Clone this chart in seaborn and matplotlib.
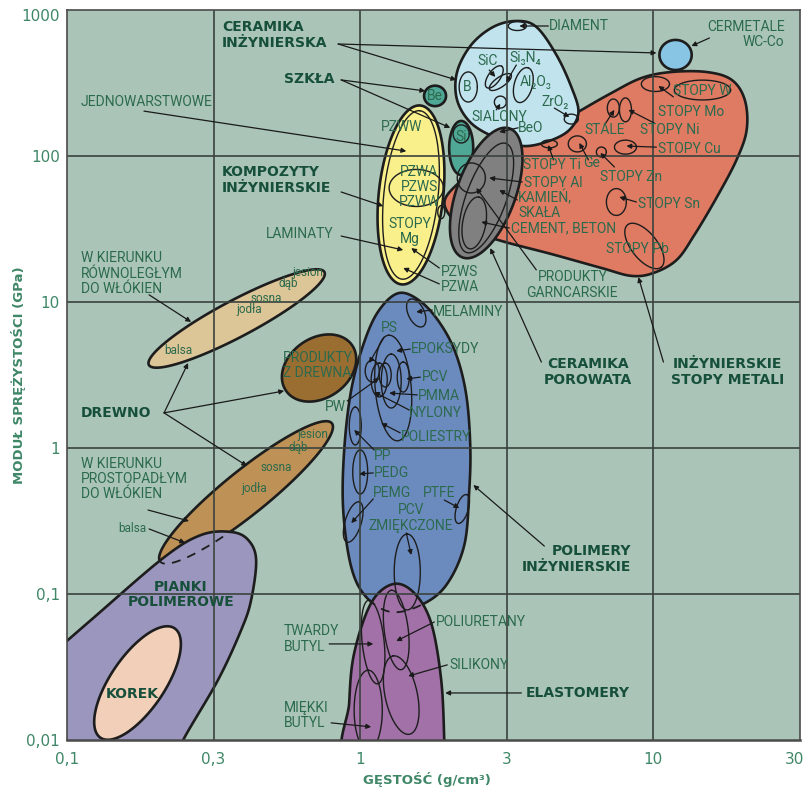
import numpy as np
import matplotlib
matplotlib.use("Agg")
import matplotlib.pyplot as plt
from matplotlib.patches import Polygon
from matplotlib.ticker import NullLocator
from matplotlib.transforms import ScaledTranslation
import seaborn as sns

sns.set_style("white")
plt.rcParams["font.family"] = ["DejaVu Sans"]

# ---------------------------------------------------------------------------
# Material envelopes: density rho [g/cm3], Young's modulus E [GPa]
# ---------------------------------------------------------------------------
# free-form envelopes (outline points, smoothed by a closed spline)
cer_rho = [3.41, 3.99, 4.67, 5.25, 5.55, 5.17, 4.42, 3.60, 2.91, 2.39, 2.14, 2.14, 2.39, 2.84]
cer_E = [841, 765, 492, 297, 200, 151, 127, 117, 133, 168, 242, 376, 576, 765]

metal_rho = [1.94, 2.13, 2.80, 3.83, 5.46, 7.19, 9.10, 11.5, 15.2, 18.5, 20.5, 20.8,
             19.2, 16.4, 13.8, 12.0, 10.0, 8.41, 6.65, 4.49, 3.03, 2.25]
metal_E = [46.2, 63.3, 93.9, 129, 197, 270, 342, 376, 376, 332, 242, 151,
           93.9, 51.6, 28.8, 19.4, 15.8, 15.1, 17.1, 21.3, 26.2, 32.1]

foam_rho = [0.0435, 0.0697, 0.1208, 0.213, 0.2866, 0.363, 0.415, 0.4416, 0.4246,
            0.3926, 0.3275, 0.249, 0.2265, 0.1306, 0.0435]
foam_E = [0.01117, 0.0254, 0.0664, 0.1765, 0.2536, 0.266, 0.2344, 0.171, 0.091,
          0.0566, 0.0258, 0.01, 0.00624, 0.00388, 0.00388]

poly_rho = [1.359, 1.615, 1.889, 2.127, 2.30, 2.373, 2.355, 2.265, 1.967, 1.615,
            1.276, 1.048, 0.932, 0.875, 0.882, 0.932, 1.032, 1.161]
poly_E = [11.53, 10.0, 6.96, 4.34, 2.307, 1.048, 0.515, 0.2166, 0.1153, 0.0841,
          0.0753, 0.0954, 0.153, 0.376, 0.969, 2.495, 5.32, 8.81]

elast_rho = [0.910, 0.917, 0.954, 1.090, 1.296, 1.528, 1.746, 1.889, 1.935, 1.935]
elast_E = [0.0073, 0.0179, 0.0394, 0.0868, 0.117, 0.1016, 0.0633, 0.0258, 0.01, 0.0073]

# elliptical envelopes: (rho centre, E centre, half-axis a, half-axis b, tilt deg);
# half-axes in decades of E (= half a decade of rho)
cermet = (11.9, 492, 0.11, 0.103, 0)
porous = (2.69, 55.8, 0.47, 0.2, 70)
composites = (1.49, 54.1, 0.616, 0.22, 84)
glass_si = (2.21, 113.5, 0.185, 0.082, 90)
glass_be = (1.80, 258, 0.075, 0.07, 0)
wood_par = (0.379, 7.71, 0.678, 0.125, 28)
wood_perp = (0.408, 0.496, 0.753, 0.15, 39)
wood_prod = (0.724, 3.53, 0.274, 0.205, 35)
cork = (0.174, 0.02456, 0.452, 0.185, 56)

# individual materials inside the families (outlines only)
members = [
    # engineering ceramics
    (3.435, 777, 0.062, 0.031, 0), (2.336, 297, 0.062, 0.103, 0),
    (2.866, 348, 0.089, 0.041, 55), (3.006, 321, 0.089, 0.034, 35),
    (3.600, 306, 0.123, 0.062, 75), (3.006, 234, 0.041, 0.041, 0),
    (5.248, 179, 0.048, 0.034, 0), (4.416, 121, 0.055, 0.027, 0),
    # metals
    (14.7, 283, 0.192, 0.068, 0), (10.16, 311, 0.096, 0.051, 0),
    (7.30, 213, 0.041, 0.062, 0), (8.03, 207, 0.041, 0.082, 0),
    (8.03, 115, 0.075, 0.048, 0), (5.503, 121, 0.062, 0.055, 0),
    (6.645, 106.5, 0.034, 0.034, 0), (7.476, 48.4, 0.068, 0.092, 0),
    (9.318, 24.2, 0.185, 0.089, -52),
    # porous ceramics
    (2.69, 51.6, 0.397, 0.137, 70), (2.393, 70.7, 0.096, 0.103, 0),
    (2.449, 34.8, 0.18, 0.079, 80),
    # composites and glass
    (1.49, 54.1, 0.58, 0.185, 84), (1.553, 60.4, 0.185, 0.127, 0),
    (1.89, 41.3, 0.024, 0.045, 0), (2.21, 141.6, 0.055, 0.062, 0),
    # polymers
    (1.553, 8.41, 0.103, 0.055, 115), (1.296, 2.576, 0.363, 0.123, 95),
    (1.276, 2.876, 0.185, 0.068, 90), (1.402, 3.064, 0.103, 0.041, 90),
    (1.099, 3.369, 0.075, 0.048, 90), (1.161, 2.923, 0.116, 0.055, 90),
    (1.217, 3.162, 0.082, 0.041, 90), (0.962, 1.415, 0.13, 0.041, 90),
    (1.0, 0.685, 0.151, 0.051, 90), (0.9465, 0.311, 0.144, 0.055, 73),
    (2.229, 0.382, 0.103, 0.041, 73), (1.447, 0.1415, 0.26, 0.089, 90),
    # elastomers
    (1.107, 0.0469, 0.288, 0.075, 96), (1.327, 0.0567, 0.274, 0.082, 97),
    (1.065, 0.0160, 0.274, 0.096, 90), (1.380, 0.0203, 0.274, 0.11, 102),
]

# leader lines: (rho from, E from, rho to, E to)
leaders = [
    (0.841, 585, 10.24, 508), (0.841, 585, 2.127, 332),
    (0.861, 332, 1.667, 279), (0.861, 332, 2.028, 156),
    (0.183, 203, 1.436, 108), (0.861, 56.7, 1.198, 45.4),
    (0.861, 28.3, 1.402, 22.7), (1.861, 17.1, 1.493, 23.4),
    (1.861, 13.3, 1.402, 17.1), (0.1905, 11.2, 0.265, 7.30),
    (0.2143, 1.74, 0.2588, 3.82), (0.2143, 1.74, 0.5503, 2.46),
    (0.2143, 1.74, 0.4113, 0.753), (0.189, 0.376, 0.2608, 0.316),
    (0.1905, 0.279, 0.2529, 0.224), (0.903, 2.10, 1.161, 3.02),
    (1.207, 5.75, 1.073, 3.82), (1.482, 4.76, 1.327, 4.62),
    (1.603, 3.06, 1.436, 2.97), (1.565, 2.31, 1.256, 2.38),
    (1.470, 1.82, 1.116, 2.42), (1.369, 1.27, 1.179, 1.48),
    (1.116, 0.969, 0.954, 1.33), (1.108, 0.675, 0.992, 0.664),
    (1.108, 0.448, 0.932, 0.306), (1.935, 0.440, 2.178, 0.388),
    (1.436, 0.262, 1.493, 0.185), (1.761, 8.81, 1.553, 8.55),
    (4.246, 0.213, 2.431, 0.558), (4.148, 3.88, 2.778, 23.4),
    (10.82, 3.88, 8.890, 14.8), (3.987, 16.6, 2.489, 60.4),
    (3.225, 32.1, 2.588, 35.3), (3.433, 50.0, 2.980, 58.5),
    (3.57, 66.4, 2.755, 70.7), (4.560, 94, 4.383, 119),
    (6.004, 94, 5.588, 123), (7.362, 84.1, 6.592, 105),
    (10.24, 115, 8.091, 117), (10.08, 168, 8.222, 207),
    (6.807, 163, 7.362, 207), (11.70, 254, 10.40, 302),
    (8.750, 48.4, 7.656, 52.4), (3.459, 156, 2.980, 146),
    (2.911, 207, 3.006, 228), (4.592, 213, 5.167, 185),
    (2.755, 388, 2.890, 348), (3.407, 420, 3.150, 321),
    (4.383, 777, 3.490, 777), (15.53, 643, 13.48, 567),
    (0.7838, 0.0455, 1.108, 0.0455), (0.7962, 0.0131, 1.090, 0.0123),
    (1.789, 0.0643, 1.327, 0.0476), (1.981, 0.0327, 1.458, 0.0274),
    (3.544, 0.0210, 1.950, 0.0210),
]

family_labels = [
    ("CERAMIKA\nINŻYNIERSKA", 0.338, 669, "left"),
    ("SZKŁA", 0.815, 337, "right"),
    ("KOMPOZYTY\nINŻYNIERSKIE", 0.338, 68.0, "left"),
    ("DREWNO", 0.1117, 1.74, "left"),
    ("CERAMIKA\nPOROWATA", 6.00, 3.32, "center"),
    ("INŻYNIERSKIE\nSTOPY METALI", 17.9, 3.32, "center"),
    ("POLIMERY\nINŻYNIERSKIE", 8.41, 0.175, "right"),
    ("ELASTOMERY", 3.66, 0.0210, "left"),
    ("PIANKI\nPOLIMEROWE", 0.2449, 0.0992, "center"),
    ("KOREK", 0.1667, 0.0207, "center"),
]

# wood species along the two grain directions
species_labels = [
    ("jesion", 0.665, 16.0), ("dąb", 0.568, 13.3),
    ("sosna", 0.478, 10.65), ("jodła", 0.418, 8.95),
    ("balsa", 0.2393, 4.62),
    ("jesion", 0.6915, 1.23), ("dąb", 0.614, 1.0),
    ("sosna", 0.5164, 0.741), ("jodła", 0.4345, 0.532),
    ("balsa", 0.1667, 0.283),
]

material_labels = [
    ("JEDNOWARSTWOWE", 0.1117, 234, "left"),
    ("LAMINATY", 0.8089, 29.2, "right"),
    ("W KIERUNKU\nRÓWNOLEGŁYM\nDO WŁÓKIEN", 0.1117, 15.6, "left"),
    ("W KIERUNKU\nPROSTOPADŁYM\nDO WŁÓKIEN", 0.1117, 0.613, "left"),
    ("PRODUKTY\nZ DREWNA", 0.5458, 3.67, "left"),
    ("PW", 0.8217, 1.91, "center"),
    ("TWARDY\nBUTYL", 0.5503, 0.0492, "left"),
    ("MIĘKKI\nBUTYL", 0.5503, 0.0147, "left"),
    ("POLIURETANY", 1.817, 0.0643, "left"),
    ("SILIKONY", 2.013, 0.0327, "left"),
    ("PTFE", 1.642, 0.492, "left"),
    ("PCV\nZMIĘKCZONE", 1.493, 0.332, "center"),
    ("PEMG", 1.108, 0.492, "left"),
    ("PEDG", 1.116, 0.675, "left"),
    ("PP", 1.116, 0.882, "left"),
    ("POLIESTRY", 1.380, 1.19, "left"),
    ("NYLONY", 1.470, 1.74, "left"),
    ("PMMA", 1.578, 2.27, "left"),
    ("PCV", 1.629, 3.06, "left"),
    ("EPOKSYDY", 1.493, 4.76, "left"),
    ("PS", 1.179, 6.64, "left"),
    ("MELAMINY", 1.774, 8.55, "left"),
    ("PZWS", 1.889, 16.1, "left"),
    ("PZWA", 1.889, 12.7, "left"),
    ("PRODUKTY\nGARNCARSKIE", 5.292, 13.1, "center"),
    ("CEMENT, BETON", 3.276, 32.1, "left"),
    ("KAMIEŃ,\nSKAŁA", 3.459, 46.2, "left"),
    ("STOPY Al", 3.630, 65.3, "left"),
    ("STOPY Ti", 3.600, 86.7, "left"),
    ("Ge", 5.770, 89.5, "left"),
    ("STOPY Zn", 6.592, 71.8, "left"),
    ("STOPY Sn", 8.890, 46.9, "left"),
    ("STOPY Pb", 6.918, 23.1, "left"),
    ("STOPY Cu", 10.40, 112, "left"),
    ("STOPY Ni", 9.032, 151, "left"),
    ("STALE", 5.816, 151, "left"),
    ("STOPY Mo", 10.40, 200, "left"),
    ("STOPY W", 11.70, 279, "left"),
    ("BeO", 3.459, 156, "left"),
    ("SIALONY", 2.393, 185, "left"),
    ("ZrO₂", 4.148, 234, "left"),
    ("Al₂O₃", 3.490, 321, "left"),
    ("Si₃N₄", 3.225, 469, "left"),
    ("SiC", 2.507, 448, "left"),
    ("B", 2.318, 297, "center"),
    ("DIAMENT", 4.416, 777, "left"),
    ("CERMETALE\nWC-Co", 28.0, 679, "right"),
    ("Be", 1.803, 258, "center"),
    ("Si", 2.213, 135, "center"),
    ("PZWW", 1.380, 158, "center"),
    ("PZWA\nPZWS\nPZWW", 1.590, 61.3, "center"),
    ("STOPY\nMg", 1.482, 30.4, "center"),
]

x_ticks = [0.1, 10 ** -0.5, 1, 10 ** 0.5, 10, 10 ** 1.5]
x_ticklabels = ["0,1", "0,3", "1", "3", "10", "30"]
y_ticks = [0.01, 0.1, 1, 10, 100, 1000]
y_ticklabels = ["0,01", "0,1", "1", "10", "100", "1000"]

# ---------------------------------------------------------------------------
BG = "#aac5b7"
EDGE = "#1d1d1d"
TXT = "#2c6a4d"
HEAD = "#17503a"
AXC = "#3f8767"


def ellipse(spec, n=260):
    rho, E, a, b, ang = spec
    uc, vc = 2 * np.log10(rho), np.log10(E)
    t = np.linspace(0, 2 * np.pi, n)
    th = np.deg2rad(ang)
    u = uc + a * np.cos(t) * np.cos(th) - b * np.sin(t) * np.sin(th)
    v = vc + a * np.cos(t) * np.sin(th) + b * np.sin(t) * np.cos(th)
    return 10 ** (u / 2), 10 ** v


def blob(rho, E, n=30):
    P = np.column_stack([2 * np.log10(rho), np.log10(E)])
    m = len(P)
    t = np.linspace(0, 1, n, endpoint=False)[:, None]
    segs = []
    for i in range(m):
        p0, p1, p2, p3 = P[i - 1], P[i], P[(i + 1) % m], P[(i + 2) % m]
        segs.append(0.5 * (2 * p1 + (-p0 + p2) * t
                           + (2 * p0 - 5 * p1 + 4 * p2 - p3) * t ** 2
                           + (-p0 + 3 * p1 - 3 * p2 + p3) * t ** 3))
    Q = np.vstack(segs + [segs[0][:1]])
    return 10 ** (Q[:, 0] / 2), 10 ** Q[:, 1]


fig = plt.figure(figsize=(8.08, 7.94), dpi=100)
ax = fig.add_axes([67 / 808, 54 / 794, 733 / 808, 730 / 794])
ax.set_xscale("log")
ax.set_yscale("log")
ax.set_facecolor(BG)


def region(xy, color, z, lw=1.9):
    p = Polygon(np.column_stack(xy), closed=True, facecolor=color,
                edgecolor=EDGE, lw=lw, zorder=z, joinstyle="round")
    ax.add_patch(p)
    return p


# wood
region(ellipse(wood_par), "#dcc597", 2)
region(ellipse(wood_prod), "#9a6d31", 2)
wp = ellipse(wood_perp)
region(wp, "#be9256", 2)
foam = region(blob(foam_rho, foam_E), "#9b96bd", 3)
dashed = ax.plot(wp[0], wp[1], color=EDGE, lw=1.3, ls=(0, (5, 4)), zorder=3.5)[0]
dashed.set_clip_path(foam)
region(ellipse(cork), "#f2cfb9", 4)

# polymers and elastomers
pol = blob(poly_rho, poly_E)
region(pol, "#6b8bbf", 2)
el = region(blob(elast_rho, elast_E), "#a171a7", 3)
d2 = ax.plot(pol[0], pol[1], color=EDGE, lw=1.3, ls=(0, (5, 4)), zorder=3.5)[0]
d2.set_clip_path(el)

# metals, ceramics, composites, glass
region(blob(metal_rho, metal_E), "#de7b62", 2)
region(blob(cer_rho, cer_E), "#c0e3ed", 3)
region(ellipse(cermet), "#88c5e4", 3)
region(ellipse(glass_be), "#4fa795", 3)
region(ellipse(glass_si), "#4fa795", 3)
region(ellipse(porous), "#808080", 4)
region(ellipse(composites), "#f9ef8b", 4)

# single materials
for spec in members:
    ex, ey = ellipse(spec)
    sns.lineplot(x=ex, y=ey, sort=False, estimator=None, color=EDGE,
                 lw=1.0, ax=ax, zorder=5)

# grid over the envelopes
for gx in x_ticks[1:-1]:
    ax.axvline(gx, color="#3b423e", lw=1.2, zorder=6)
for gy in y_ticks[1:-1]:
    ax.axhline(gy, color="#3b423e", lw=1.2, zorder=6)

# leader lines
for x0, y0, x1, y1 in leaders:
    ax.annotate("", xy=(x1, y1), xytext=(x0, y0),
                arrowprops=dict(arrowstyle="-|>", color="#1a1a1a", lw=0.9,
                                mutation_scale=7, shrinkA=0, shrinkB=0),
                zorder=8)

label_font = ["Roboto", "DejaVu Sans"]
for s, x, y, ha in material_labels:
    ax.text(x, y, s, ha=ha, va="center", multialignment=ha, color=TXT,
            fontsize=10, family=label_font, linespacing=1.12, zorder=9)
for s, x, y in species_labels:
    ax.text(x, y, s, ha="center", va="center", color=TXT,
            fontsize=8.5, family=label_font, zorder=9)
for s, x, y, ha in family_labels:
    ax.text(x, y, s, ha=ha, va="center", multialignment=ha, color=HEAD,
            fontsize=10, fontweight="bold", linespacing=1.18, zorder=9)

ax.set_xlim(0.1, 10 ** 1.5)
ax.set_ylim(0.01, 1000)
ax.set_xticks(x_ticks)
ax.set_xticklabels(x_ticklabels)
ax.set_yticks(y_ticks)
ax.set_yticklabels(y_ticklabels)
ax.xaxis.set_minor_locator(NullLocator())
ax.yaxis.set_minor_locator(NullLocator())
ax.tick_params(length=0, labelsize=11, labelcolor=AXC)
ax.tick_params(axis="x", pad=9)
ax.tick_params(axis="y", pad=5)
ax.grid(False)

# keep the outermost tick labels inside the canvas
last_x = ax.get_xticklabels()[-1]
last_x.set_transform(last_x.get_transform()
                     + ScaledTranslation(-5 / 100, 0, fig.dpi_scale_trans))
top_y = ax.get_yticklabels()[-1]
top_y.set_transform(top_y.get_transform()
                    + ScaledTranslation(0, -5 / 100, fig.dpi_scale_trans))

for side, sp in ax.spines.items():
    sp.set_visible(True)
    sp.set_color("#4a4a4a")
    sp.set_linewidth(1.8 if side == "bottom" else 1.2)
    sp.set_zorder(10)

ax.set_xlabel("GĘSTOŚĆ (g/cm³)", fontsize=9.5, fontweight="bold", color=AXC)
ax.set_ylabel("MODUŁ SPRĘŻYSTOŚCI (GPa)", fontsize=9.5, fontweight="bold", color=AXC)
ax.xaxis.set_label_coords(0.491, -0.044)
ax.yaxis.set_label_coords(-0.056, 0.5)

fig.savefig("out.png", dpi=100, facecolor="white")
